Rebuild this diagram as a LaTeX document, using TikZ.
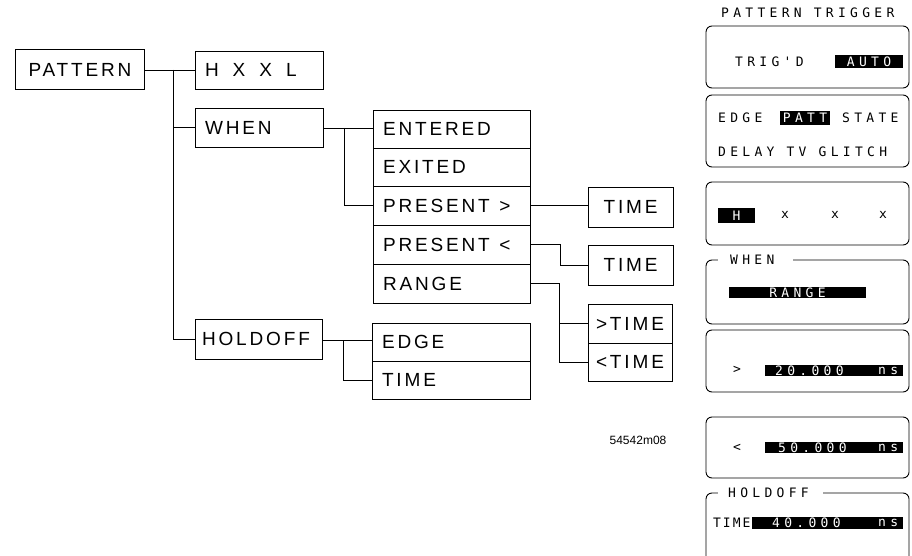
\documentclass[tikz,border=0pt]{standalone}
\usepackage{fontspec}
\newfontfamily\lf[LetterSpace=15]{Liberation Sans}
\newfontfamily\nf{Liberation Sans}
\newfontfamily\pf[LetterSpace=33]{DejaVu Sans Mono}
\newfontfamily\pft[LetterSpace=15]{DejaVu Sans Mono}
\begin{document}
\begin{tikzpicture}[x=1pt,y=-1pt,
  lb/.style={draw, line width=0.8pt, inner xsep=10pt, inner ysep=0pt, align=left,
             font=\lf\fontsize{19}{19}\selectfont},
  conn/.style={line width=0.7pt},
  panel/.style={draw, line width=0.9pt, rounded corners=6pt},
  ptxt/.style={font=\pf\fontsize{13}{13}\selectfont, inner sep=0pt, anchor=west},
  hlbox/.style={fill=black, text=white, font=\pf\fontsize{13}{13}\selectfont, inner sep=0pt},
  ptitle/.style={fill=white, inner ysep=1pt, anchor=west, align=left,
             font=\pf\fontsize{13}{13}\selectfont}
]
\useasboundingbox (0,0) rectangle (912,556);
\clip (0,0) rectangle (912,556);

% ---------- left tree ----------
\node[lb, inner xsep=4pt, text width=121pt, minimum height=40pt, align=center] (pattern) at (80,69.5) {PATTERN};
\node[lb, text width=108pt, minimum height=38pt] (hxxl) at (259,70) {H\hspace{14pt}X\hspace{14pt}X\hspace{14pt}L};
\node[lb, text width=108pt, minimum height=39pt] (when) at (259,127.5) {WHEN};
\node[lb, inner xsep=7pt, text width=113pt, minimum height=40pt] (holdoff) at (258.5,339) {HOLDOFF};

\node[lb, text width=137pt, minimum height=38pt] (entered) at (451.5,129) {ENTERED};
\node[lb, text width=137pt, minimum height=38pt] (exited) at (451.5,167) {EXITED};
\node[lb, text width=137pt, minimum height=39pt] (presgt) at (451.5,205.5) {PRESENT \,>};
\node[lb, text width=137pt, minimum height=39pt] (preslt) at (451.5,244.5) {PRESENT \,<};
\node[lb, text width=137pt, minimum height=39pt] (range) at (451.5,283.5) {RANGE};

\node[lb, text width=138pt, minimum height=38pt] (edge) at (451,342) {EDGE};
\node[lb, text width=138pt, minimum height=38pt] (timeh) at (451,380) {TIME};

\node[lb, inner xsep=6pt, text width=73pt, minimum height=40pt, align=center] (time1) at (630.5,207) {TIME};
\node[lb, inner xsep=6pt, text width=73pt, minimum height=40pt, align=center] (time2) at (630.5,265) {TIME};
\node[lb, inner xsep=3pt, text width=78pt, minimum height=39pt, align=center] (gtt) at (630,323.5) {>TIME};
\node[lb, inner xsep=3pt, text width=78pt, minimum height=38pt, align=center] (ltt) at (630,362) {<TIME};

\node[font=\nf\fontsize{12}{12}\selectfont, inner sep=0pt] (fig) at (638,440) {54542m08};

% connectors
\coordinate (j1) at (173,70);
\coordinate (j2) at (344,128);
\coordinate (j3) at (343,340);
\coordinate (jp) at (560,244.5);
\coordinate (jr) at (559,283.5);
\draw[conn] (pattern.east |- j1) -- (hxxl.west |- j1);
\draw[conn] (j1) |- (when.west);
\draw[conn] (j1) |- (holdoff.west);
\draw[conn] (when.east |- j2) -- (entered.west |- j2);
\draw[conn] (j2) |- (presgt.west);
\draw[conn] (holdoff.east |- j3) -- (edge.west |- j3);
\draw[conn] (j3) |- (timeh.west);
\draw[conn] (presgt.east) -- (presgt.east -| time1.west);
\draw[conn] (preslt.east) -- (jp) |- (time2.west);
\draw[conn] (range.east) -- (jr) |- (ltt.west);
\draw[conn] (jr |- gtt.west) -- (gtt.west);

% ---------- right panels ----------
\node[ptxt] (ptit) at (721,13) {PATTERN TRIGGER};

\draw[panel] (706,26) rectangle (909,88);
\node[ptxt] (trigd) at (735,62) {TRIG'D};
\node[hlbox, minimum width=68pt, minimum height=13pt] (auto) at (869,61.5) {AUTO};

\draw[panel] (706,95) rectangle (909,167);
\node[ptxt] (edg2) at (718,118) {EDGE};
\node[hlbox, minimum width=50pt, minimum height=14pt] (patt) at (805,118) {PATT};
\node[ptxt] (state) at (842,118) {STATE};
\node[ptxt] (delay) at (718,152) {DELAY TV GLITCH};

\draw[panel] (706,182) rectangle (909,245);
\node[hlbox, minimum width=37pt, minimum height=15pt] (hh) at (736.5,215.5) {H};
\node[font=\pf\fontsize{13}{13}\selectfont, inner sep=0pt] (x1) at (785,215) {x};
\node[font=\pf\fontsize{13}{13}\selectfont, inner sep=0pt] (x2) at (835,215) {x};
\node[font=\pf\fontsize{13}{13}\selectfont, inner sep=0pt] (x3) at (883,215) {x};

\draw[panel] (706,260) rectangle (909,324);
\node[ptitle, inner xsep=12pt, text width=51pt] (whent) at (718,260) {WHEN};
\node[hlbox, minimum width=137pt, minimum height=11pt] (rng) at (797.5,292.5) {RANGE};

\draw[panel] (706,330) rectangle (909,392);
\node[ptxt] (gt) at (733,370) {>};
\node[hlbox, minimum width=138pt, minimum height=11pt] (v1) at (834,370.5) {};
\node[ptxt, text=white] (v1a) at (775,370.5) {20.000};
\node[ptxt, text=white] (v1b) at (878,370.5) {ns};

\draw[panel] (706,417) rectangle (909,478);
\node[ptxt] (lt) at (733,448) {<};
\node[hlbox, minimum width=138pt, minimum height=11pt] (v2) at (834,447.5) {};
\node[ptxt, text=white] (v2a) at (778,447.5) {50.000};
\node[ptxt, text=white] (v2b) at (878,447.5) {ns};

\draw[panel] (706,493) rectangle (909,590);
\node[ptitle, inner xsep=10pt, text width=85pt] (holdt) at (718,493) {HOLDOFF};
\node[font=\pft\fontsize{13}{13}\selectfont, inner sep=0pt, anchor=west] (timet) at (713,523) {TIME};
\node[hlbox, minimum width=151pt, minimum height=12pt] (v3) at (827.5,523) {};
\node[ptxt, text=white] (v3a) at (772,523) {40.000};
\node[ptxt, text=white] (v3b) at (878,523) {ns};
\end{tikzpicture}
\end{document}
